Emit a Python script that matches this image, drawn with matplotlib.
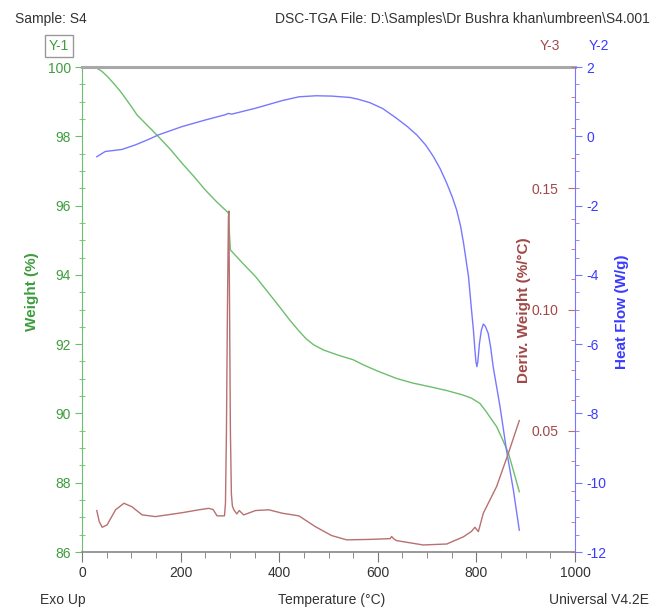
import matplotlib
matplotlib.use("Agg")
import matplotlib.pyplot as plt
from matplotlib.ticker import MultipleLocator

plt.rcParams['font.family'] = ['Liberation Sans', 'DejaVu Sans']
plt.rcParams['axes.unicode_minus'] = False

# ---- data ----
w_temp = [26, 40, 52, 64, 76, 88, 100, 112, 135, 155, 180, 203, 227, 250, 273, 296, 297.5, 299, 301,
          325, 352, 380, 406, 420, 440, 455, 470, 490, 520, 550, 571, 600, 638, 670, 706, 740, 773,
          790, 807, 820, 832, 841, 853, 865, 876, 887]
w_val = [100.0, 99.88, 99.72, 99.53, 99.33, 99.10, 98.86, 98.61, 98.28, 97.99, 97.61, 97.22, 96.84,
         96.45, 96.11, 95.80, 95.76, 95.2, 94.72, 94.35, 93.95, 93.45, 92.98, 92.72, 92.38, 92.15, 91.98,
         91.83, 91.68, 91.55, 91.40, 91.22, 91.01, 90.88, 90.77, 90.66, 90.53, 90.44, 90.29, 90.05,
         89.80, 89.62, 89.25, 88.85, 88.30, 87.74]

hf_temp = [30, 47, 81, 108, 135, 155, 203, 250, 290, 297, 304, 352, 406, 440, 475, 507, 544, 560,
           584, 610, 638, 660, 679, 697, 713, 727, 740, 751, 760, 768, 774, 784, 790, 794, 797, 799,
           801, 803, 806, 810, 814, 818, 824, 829, 834, 848, 861, 875, 887]
hf_val = [-0.59, -0.44, -0.38, -0.25, -0.09, 0.04, 0.28, 0.47, 0.62, 0.66, 0.64, 0.81, 1.03, 1.14,
          1.17, 1.16, 1.12, 1.07, 0.97, 0.80, 0.52, 0.28, 0.04, -0.25, -0.59, -0.95, -1.36, -1.75,
          -2.13, -2.60, -3.09, -4.05, -5.00, -5.60, -6.17, -6.50, -6.65, -6.50, -6.00, -5.60, -5.42,
          -5.48, -5.69, -6.10, -6.65, -7.81, -9.06, -10.21, -11.37]

d_temp = [30, 35, 41, 51, 68, 85, 101, 122, 149, 203, 237, 257, 266, 274, 289, 291, 293, 295, 297, 297.8,
          299, 301, 303, 305, 308, 314, 319, 328, 352, 379, 406, 440, 473, 506, 537, 584, 625, 628, 632,
          638, 692, 740, 774, 790, 797, 804, 814, 841, 865, 887]
d_val = [0.0171, 0.0125, 0.0102, 0.0112, 0.0174, 0.0201, 0.0187, 0.0153, 0.0146, 0.0162, 0.0174, 0.0180,
         0.0175, 0.0149, 0.0149, 0.0200, 0.0500, 0.1000, 0.1380, 0.1406, 0.1100, 0.0500, 0.0240, 0.0190,
         0.0174, 0.0157, 0.0171, 0.0153, 0.0171, 0.0174, 0.0160, 0.0149, 0.0105, 0.0068, 0.0050, 0.0052,
         0.0055, 0.0064, 0.0055, 0.0047, 0.0029, 0.0033, 0.0063, 0.0085, 0.0102, 0.0084, 0.0160, 0.0270,
         0.0408, 0.0542]

# ---- colours ----
G_LINE, G_TXT = '#6cbf6c', '#3d9d3d'
B_LINE, B_TXT = '#7878ff', '#3a3aff'
R_LINE, R_TXT = '#b87070', '#a04848'
GRAY = '#a8a8a8'

W, H = 659, 608
fig = plt.figure(figsize=(W / 100, H / 100), dpi=100)
x0, x1, yt, yb = 82, 575, 67, 552
ax = fig.add_axes([x0 / W, 1 - yb / H, (x1 - x0) / W, (yb - yt) / H])
ax2 = ax.twinx()
ax3 = ax.twinx()

ax.plot(w_temp, w_val, color=G_LINE, lw=1.0)
ax2.plot(hf_temp, hf_val, color=B_LINE, lw=1.0)
ax3.plot(d_temp, d_val, color=R_LINE, lw=1.0)

ax.set_xlim(0, 1000)
ax.set_ylim(86, 100)
ax2.set_ylim(-12, 2)
ax3.set_ylim(0.0, 0.2)

FS = 10
# x axis
ax.xaxis.set_major_locator(MultipleLocator(200))
ax.xaxis.set_minor_locator(MultipleLocator(50))
ax.tick_params(axis='x', which='major', direction='out', length=7, color='#777777', labelsize=FS,
               labelcolor='#333333', pad=3)
ax.tick_params(axis='x', which='minor', direction='out', length=4, color='#777777')
# weight axis
ax.yaxis.set_major_locator(MultipleLocator(2))
ax.yaxis.set_minor_locator(MultipleLocator(0.5))
ax.tick_params(axis='y', which='major', direction='out', length=5, color=G_LINE, labelcolor=G_TXT,
               labelsize=FS, pad=3)
ax.tick_params(axis='y', which='minor', direction='inout', length=4, color=G_LINE)
# heat flow axis
ax2.yaxis.set_major_locator(MultipleLocator(2))
ax2.yaxis.set_minor_locator(MultipleLocator(0.5))
ax2.tick_params(axis='y', which='major', direction='out', length=5, color=B_LINE, labelcolor=B_TXT,
                labelsize=FS, pad=3)
ax2.tick_params(axis='y', which='minor', direction='out', length=3, color=B_LINE)
# deriv axis (inside on right spine)
ax3.yaxis.set_minor_locator(MultipleLocator(0.0125))
ax3.set_yticks([0.05, 0.10, 0.15])
ax3.set_yticklabels(['0.05', '0.10', '0.15'])
ax3.tick_params(axis='y', which='major', direction='in', length=5, color=R_LINE, labelcolor=R_TXT,
                labelsize=FS, pad=-12)
ax3.tick_params(axis='y', which='minor', direction='in', length=3, color=R_LINE)
for lab in ax3.get_yticklabels():
    lab.set_horizontalalignment('right')

for a in (ax, ax2, ax3):
    for s in a.spines.values():
        s.set_visible(False)
ax.spines['bottom'].set_visible(True)
ax.spines['bottom'].set_color('#888888')
ax.spines['bottom'].set_linewidth(1.2)
ax.spines['top'].set_visible(True)
ax.spines['top'].set_color(GRAY)
ax.spines['top'].set_linewidth(2.2)
ax.spines['left'].set_visible(True)
ax.spines['left'].set_color(G_LINE)
ax2.spines['right'].set_visible(True)
ax2.spines['right'].set_color(B_LINE)

# axis labels
fig.text(32 / W, 1 - 292 / H, 'Weight (%)', rotation=90, color=G_TXT, fontsize=11, fontweight='bold',
         ha='center', va='center')
fig.text(524 / W, 1 - 310 / H, 'Deriv. Weight (%/°C)', rotation=90, color=R_TXT, fontsize=11,
         fontweight='bold', ha='center', va='center')
fig.text(622 / W, 1 - 312 / H, 'Heat Flow (W/g)', rotation=90, color=B_TXT, fontsize=11,
         fontweight='bold', ha='center', va='center')

# header / footer texts
fig.text(15 / W, 1 - 19 / H, 'Sample: S4', color='#333333', fontsize=FS, ha='left', va='center')
fig.text(650 / W, 1 - 19 / H, 'DSC-TGA File: D:\\Samples\\Dr Bushra khan\\umbreen\\S4.001', color='#333333',
         fontsize=FS, ha='right', va='center')
fig.text(59 / W, 1 - 46 / H, 'Y-1', color=G_TXT, fontsize=FS, ha='center', va='center',
         bbox=dict(boxstyle='square,pad=0.3', fc='white', ec='#999999', lw=1))
fig.text(550 / W, 1 - 46 / H, 'Y-3', color=R_TXT, fontsize=FS, ha='center', va='center')
fig.text(599 / W, 1 - 46 / H, 'Y-2', color=B_TXT, fontsize=FS, ha='center', va='center')
fig.text(40 / W, 1 - 600 / H, 'Exo Up', color='#333333', fontsize=FS, ha='left', va='center')
fig.text(332 / W, 1 - 600 / H, 'Temperature (°C)', color='#333333', fontsize=FS, ha='center', va='center')
fig.text(649 / W, 1 - 600 / H, 'Universal V4.2E', color='#333333', fontsize=FS, ha='right', va='center')

fig.savefig('out.png', dpi=100)
